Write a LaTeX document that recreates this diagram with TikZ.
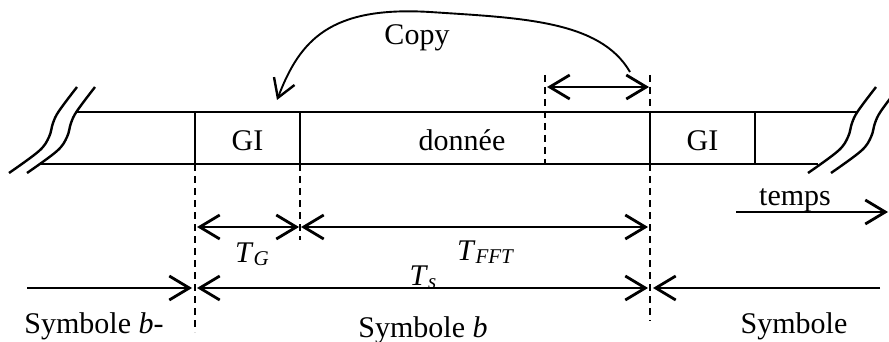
\documentclass[tikz,border=0pt]{standalone}
\usepackage{fontspec}
\setmainfont{Liberation Serif}
\usetikzlibrary{arrows.meta}
% italic subscript set a little below the baseline
\newcommand{\tsub}[1]{\raisebox{-3pt}{\fontsize{21}{21}\selectfont\itshape #1}}
\begin{document}
\begin{tikzpicture}[x=1pt,y=-1pt,
  lbl/.style={inner sep=0pt, anchor=base, font=\fontsize{30}{36}\selectfont},
  band/.style={line width=2.8pt},
  sep/.style={line width=2pt},
  guide/.style={line width=2.3pt, dash pattern=on 7pt off 5pt},
  barb/.tip={Straight Barb[length=20pt,width=24pt,line width=2.8pt]},
  dimarrow/.style={line width=2.8pt, barb-barb},
  onearrow/.style={line width=2.8pt, -barb},
  breakmark/.pic={\draw[line width=2.4pt] plot[smooth, tension=0.6]
     coordinates {(0,0) (30,-22) (40,-36) (44,-50) (50,-62) (68,-86)};}]
\useasboundingbox (0,0) rectangle (889,342);

% band edges and break marks
\coordinate (tl) at (77,112);  \coordinate (tr) at (857,112);
\coordinate (bl) at (40,164);  \coordinate (br) at (818,164);
\draw[band] (tl) -- (tr);
\draw[band] (bl) -- (br);
\pic at (9,173) {breakmark};
\pic at (27,173) {breakmark};
\pic at (808,173) {breakmark};
\pic at (831,173) {breakmark};

% cell boundaries inside the band
\foreach \n/\x in {a/195, b/300, d/650, e/755} {
  \coordinate (\n-top) at (\x,112);
  \coordinate (\n-bot) at (\x,164);
  \draw[sep] (\n-top) -- (\n-bot);
}
\coordinate (c-high) at (545,75);
\coordinate (c-bot) at (545,164);
\draw[guide] (c-high) -- (c-bot);

% dashed guides
\coordinate (a-low) at (195,332);
\coordinate (b-low) at (300,240);
\coordinate (d-high) at (650,75);
\coordinate (d-low) at (650,321);
\draw[guide] (a-bot) -- (a-low);
\draw[guide] (b-bot) -- (b-low);
\draw[guide] (d-high) -- (d-top);
\draw[guide] (d-bot) -- (d-low);

% cell labels
\node[lbl] (gi1) at (247.5,150) {GI};
\node[lbl] (data) at (462,150) {donnée};
\node[lbl] (gi2) at (702.5,150) {GI};

% cyclic prefix copy
\coordinate (cp-a) at (547,87);
\coordinate (cp-b) at (649,87);
\draw[dimarrow] (cp-a) -- (cp-b);
\coordinate (cp-start) at (630,72);
\coordinate (cp-end) at (277,100);
\draw[line width=1.9pt, -{Straight Barb[length=18pt,width=22pt,line width=2.4pt]}]
   (cp-start) .. controls (600,20) and (520,18) .. (430,12)
   .. controls (330,6) and (300,40) .. (cp-end);
\node[lbl] (copy) at (417,45) {Copy};

% durations
\coordinate (g1) at (197,227); \coordinate (g2) at (299,227);
\coordinate (f1) at (301,227); \coordinate (f2) at (648,227);
\coordinate (s1) at (197,288); \coordinate (s2) at (648,288);
\draw[dimarrow] (g1) -- (g2);
\draw[dimarrow] (f1) -- (f2);
\node[lbl] (tg) at (252,262) {\textit{T}\tsub{G}};
\node[lbl] (tfft) at (485,260) {\textit{T}\tsub{FFT}};
\begin{scope}
  \clip (380,255) rectangle (470,288);
  \node[lbl] (ts) at (423,285) {\textit{T}\tsub{s}};
\end{scope}
\draw[dimarrow] (s1) -- (s2);

% neighbouring symbols
\coordinate (l0) at (27,288);  \coordinate (l1) at (192,288);
\coordinate (r0) at (880,288); \coordinate (r1) at (653,288);
\draw[onearrow] (l0) -- (l1);
\draw[onearrow] (r0) -- (r1);
\node[lbl] (symprev) at (94,333) {Symbole \textit{b}-};
\node[lbl] (symcur) at (423,337) {Symbole \textit{b}};
\node[lbl] (symnext) at (794,333) {Symbole};

% time axis
\coordinate (t0) at (736,212);
\coordinate (t1) at (888,212);
\draw[onearrow] (t0) -- (t1);
\node[lbl] (time) at (795,205) {temps};
\end{tikzpicture}
\end{document}
